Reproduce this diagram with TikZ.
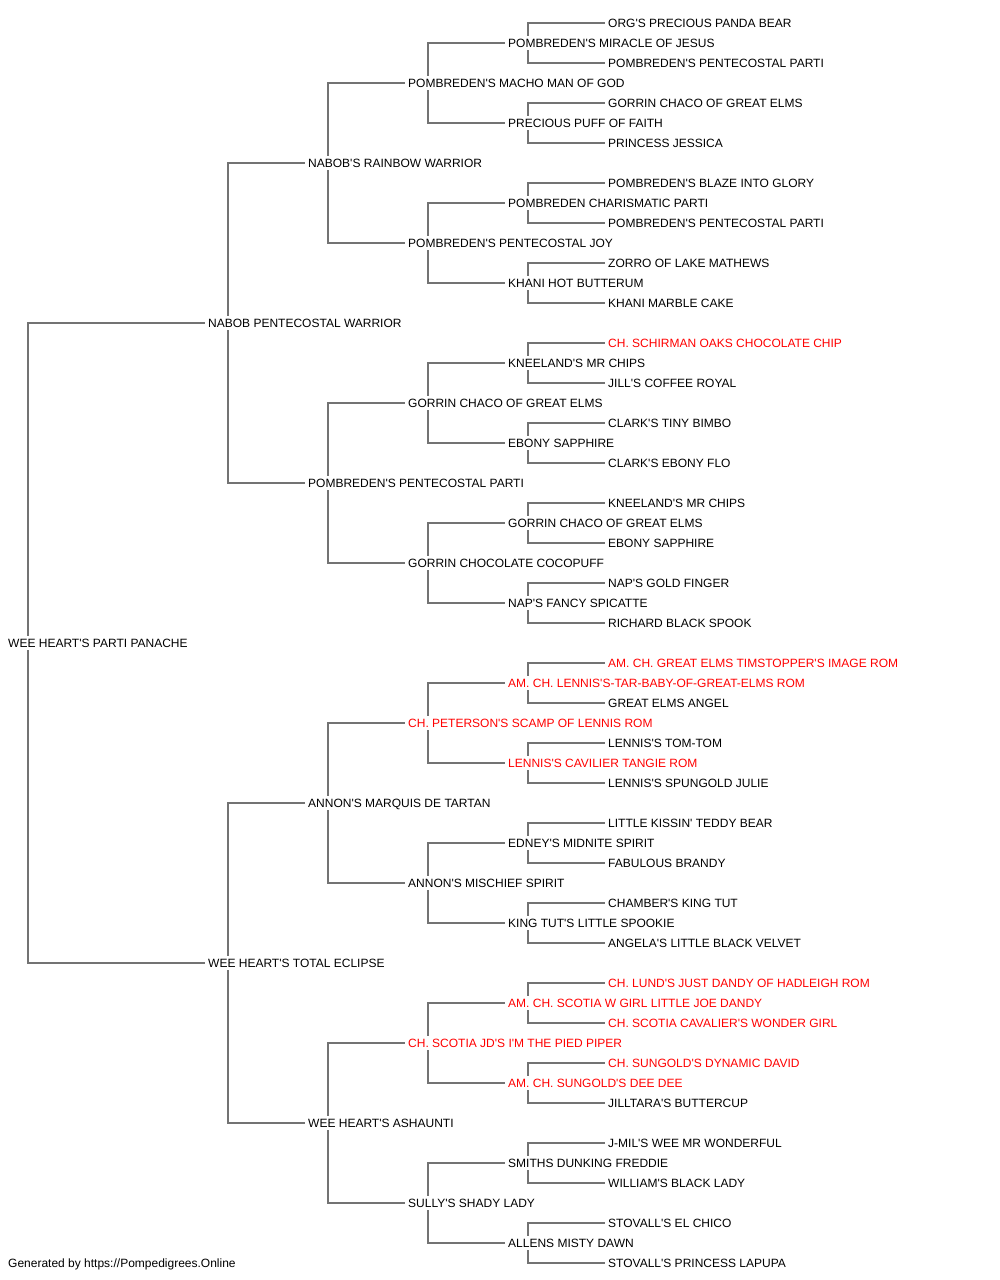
\documentclass[tikz,border=0pt]{standalone}
\usepackage{fontspec}
\setmainfont{Liberation Sans}[Ligatures=TeXOff]
\usetikzlibrary{backgrounds}
\definecolor{linegray}{RGB}{115,115,115}
\definecolor{champ}{RGB}{255,0,0}
\begin{document}
\begin{tikzpicture}[x=1pt,y=-1pt,
  dog/.style={anchor=west,font=\fontsize{12}{14}\selectfont,text height=8.6pt,text depth=0pt,inner xsep=3pt,inner ysep=3pt,fill=white},
  red/.style={dog,text=champ},
  link/.style={draw=linegray,line width=1.6pt}]
\useasboundingbox (0,0) rectangle (1000,1280);
% generation 0
\node[dog] (n0-0) at (5,643) {WEE HEART'S PARTI PANACHE};
% generation 1
\node[dog] (n1-0) at (205,323) {NABOB PENTECOSTAL WARRIOR};
\node[dog] (n1-1) at (205,963) {WEE HEART'S TOTAL ECLIPSE};
% generation 2
\node[dog] (n2-0) at (305,163) {NABOB'S RAINBOW WARRIOR};
\node[dog] (n2-1) at (305,483) {POMBREDEN'S PENTECOSTAL PARTI};
\node[dog] (n2-2) at (305,803) {ANNON'S MARQUIS DE TARTAN};
\node[dog] (n2-3) at (305,1123) {WEE HEART'S ASHAUNTI};
% generation 3
\node[dog] (n3-0) at (405,83) {POMBREDEN'S MACHO MAN OF GOD};
\node[dog] (n3-1) at (405,243) {POMBREDEN'S PENTECOSTAL JOY};
\node[dog] (n3-2) at (405,403) {GORRIN CHACO OF GREAT ELMS};
\node[dog] (n3-3) at (405,563) {GORRIN CHOCOLATE COCOPUFF};
\node[red] (n3-4) at (405,723) {CH. PETERSON'S SCAMP OF LENNIS ROM};
\node[dog] (n3-5) at (405,883) {ANNON'S MISCHIEF SPIRIT};
\node[red] (n3-6) at (405,1043) {CH. SCOTIA JD'S I'M THE PIED PIPER};
\node[dog] (n3-7) at (405,1203) {SULLY'S SHADY LADY};
% generation 4
\node[dog] (n4-0) at (505,43) {POMBREDEN'S MIRACLE OF JESUS};
\node[dog] (n4-1) at (505,123) {PRECIOUS PUFF OF FAITH};
\node[dog] (n4-2) at (505,203) {POMBREDEN CHARISMATIC PARTI};
\node[dog] (n4-3) at (505,283) {KHANI HOT BUTTERUM};
\node[dog] (n4-4) at (505,363) {KNEELAND'S MR CHIPS};
\node[dog] (n4-5) at (505,443) {EBONY SAPPHIRE};
\node[dog] (n4-6) at (505,523) {GORRIN CHACO OF GREAT ELMS};
\node[dog] (n4-7) at (505,603) {NAP'S FANCY SPICATTE};
\node[red] (n4-8) at (505,683) {AM. CH. LENNIS'S-TAR-BABY-OF-GREAT-ELMS ROM};
\node[red] (n4-9) at (505,763) {LENNIS'S CAVILIER TANGIE ROM};
\node[dog] (n4-10) at (505,843) {EDNEY'S MIDNITE SPIRIT};
\node[dog] (n4-11) at (505,923) {KING TUT'S LITTLE SPOOKIE};
\node[red] (n4-12) at (505,1003) {AM. CH. SCOTIA W GIRL LITTLE JOE DANDY};
\node[red] (n4-13) at (505,1083) {AM. CH. SUNGOLD'S DEE DEE};
\node[dog] (n4-14) at (505,1163) {SMITHS DUNKING FREDDIE};
\node[dog] (n4-15) at (505,1243) {ALLENS MISTY DAWN};
% generation 5
\node[dog] (n5-0) at (605,23) {ORG'S PRECIOUS PANDA BEAR};
\node[dog] (n5-1) at (605,63) {POMBREDEN'S PENTECOSTAL PARTI};
\node[dog] (n5-2) at (605,103) {GORRIN CHACO OF GREAT ELMS};
\node[dog] (n5-3) at (605,143) {PRINCESS JESSICA};
\node[dog] (n5-4) at (605,183) {POMBREDEN'S BLAZE INTO GLORY};
\node[dog] (n5-5) at (605,223) {POMBREDEN'S PENTECOSTAL PARTI};
\node[dog] (n5-6) at (605,263) {ZORRO OF LAKE MATHEWS};
\node[dog] (n5-7) at (605,303) {KHANI MARBLE CAKE};
\node[red] (n5-8) at (605,343) {CH. SCHIRMAN OAKS CHOCOLATE CHIP};
\node[dog] (n5-9) at (605,383) {JILL'S COFFEE ROYAL};
\node[dog] (n5-10) at (605,423) {CLARK'S TINY BIMBO};
\node[dog] (n5-11) at (605,463) {CLARK'S EBONY FLO};
\node[dog] (n5-12) at (605,503) {KNEELAND'S MR CHIPS};
\node[dog] (n5-13) at (605,543) {EBONY SAPPHIRE};
\node[dog] (n5-14) at (605,583) {NAP'S GOLD FINGER};
\node[dog] (n5-15) at (605,623) {RICHARD BLACK SPOOK};
\node[red] (n5-16) at (605,663) {AM. CH. GREAT ELMS TIMSTOPPER'S IMAGE ROM};
\node[dog] (n5-17) at (605,703) {GREAT ELMS ANGEL};
\node[dog] (n5-18) at (605,743) {LENNIS'S TOM-TOM};
\node[dog] (n5-19) at (605,783) {LENNIS'S SPUNGOLD JULIE};
\node[dog] (n5-20) at (605,823) {LITTLE KISSIN' TEDDY BEAR};
\node[dog] (n5-21) at (605,863) {FABULOUS BRANDY};
\node[dog] (n5-22) at (605,903) {CHAMBER'S KING TUT};
\node[dog] (n5-23) at (605,943) {ANGELA'S LITTLE BLACK VELVET};
\node[red] (n5-24) at (605,983) {CH. LUND'S JUST DANDY OF HADLEIGH ROM};
\node[red] (n5-25) at (605,1023) {CH. SCOTIA CAVALIER'S WONDER GIRL};
\node[red] (n5-26) at (605,1063) {CH. SUNGOLD'S DYNAMIC DAVID};
\node[dog] (n5-27) at (605,1103) {JILLTARA'S BUTTERCUP};
\node[dog] (n5-28) at (605,1143) {J-MIL'S WEE MR WONDERFUL};
\node[dog] (n5-29) at (605,1183) {WILLIAM'S BLACK LADY};
\node[dog] (n5-30) at (605,1223) {STOVALL'S EL CHICO};
\node[dog] (n5-31) at (605,1263) {STOVALL'S PRINCESS LAPUPA};
% footer
\node[dog] (footer) at (5,1263) {Generated by https://Pompedigrees.Online};
% connectors
\begin{scope}[on background layer]
\foreach \g/\h/\n in {0/1/0,1/2/1,2/3/3,3/4/7,4/5/15}{
  \foreach \i in {0,...,\n}{
    \pgfmathtruncatemacro\a{2*\i}
    \pgfmathtruncatemacro\b{2*\i+1}
    \draw[link] (n\h-\a.west) -| ([xshift=23pt]n\g-\i.west) |- (n\h-\b.west);
  }
}
\end{scope}
\end{tikzpicture}
\end{document}
